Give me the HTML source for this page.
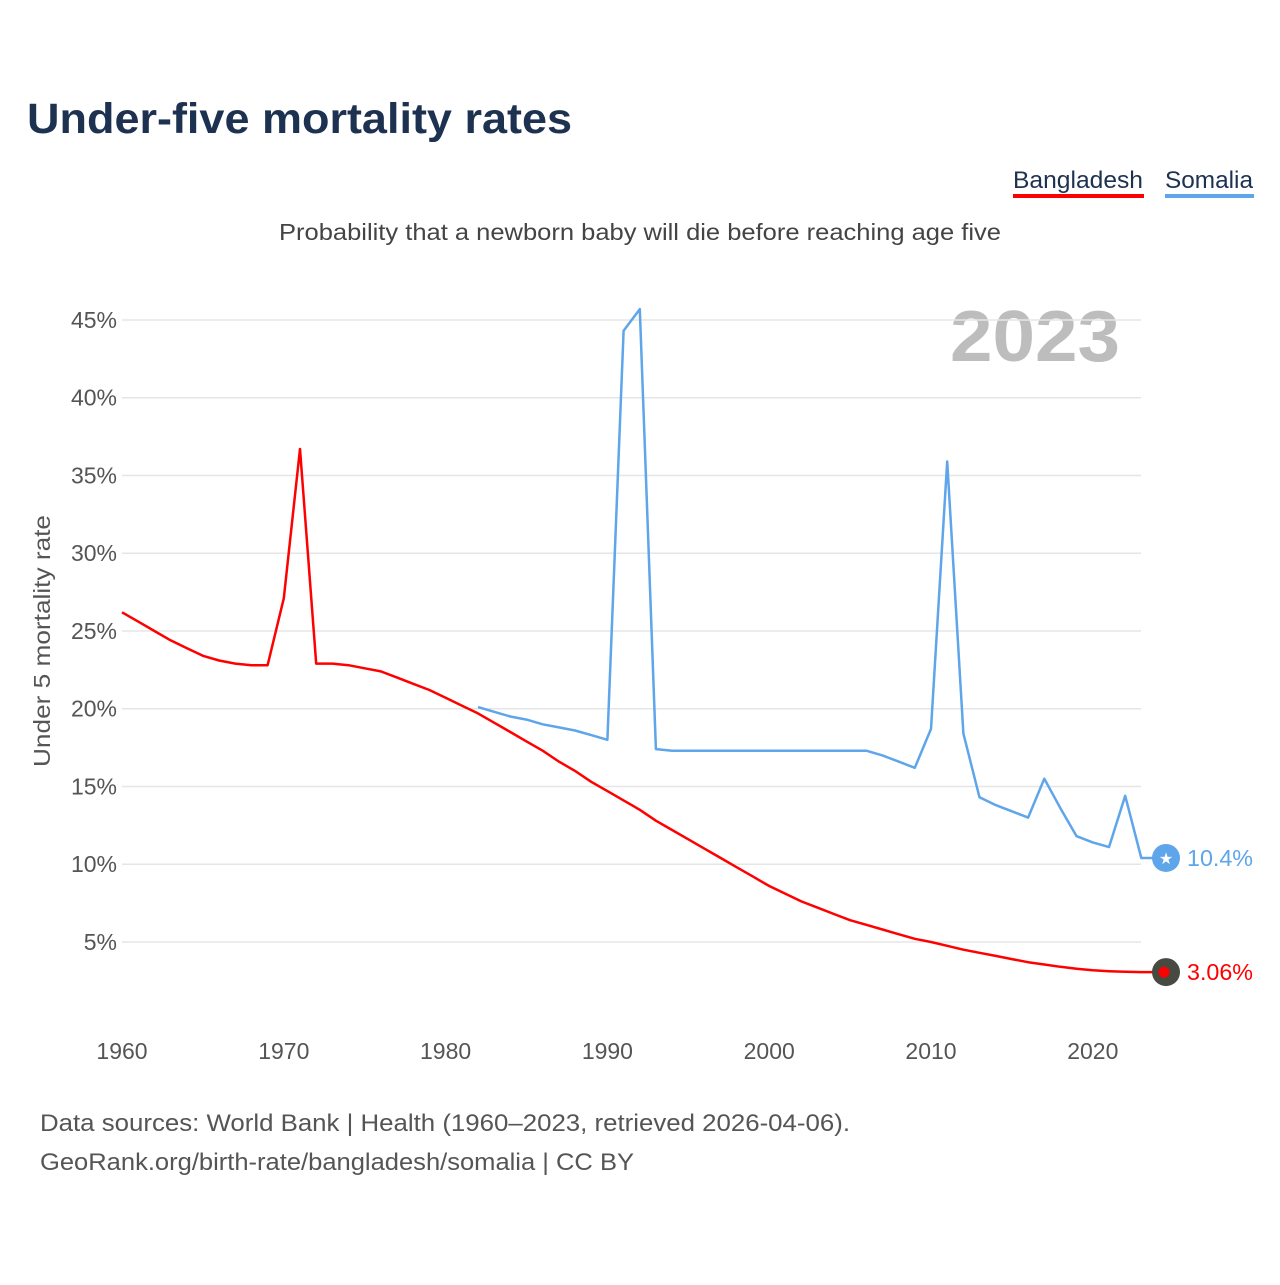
<!DOCTYPE html>
<html><head><meta charset="utf-8">
<style>
body{margin:0;background:#fff;width:1280px;height:1280px;overflow:hidden;font-family:"Liberation Sans",sans-serif}
svg text{font-family:"Liberation Sans",sans-serif}
</style></head>
<body>
<svg id="chart" width="1280" height="1280" viewBox="0 0 1280 1280">
<text x="27" y="133" font-size="43" font-weight="bold" fill="#1d3150" textLength="545" lengthAdjust="spacingAndGlyphs">Under-five mortality rates</text>
<g>
<text x="1013" y="188" font-size="24" fill="#1d3150" textLength="130" lengthAdjust="spacingAndGlyphs">Bangladesh</text>
<rect x="1013" y="194" width="131" height="4" fill="#ff0000"/>
<text x="1165" y="188" font-size="24" fill="#1d3150" textLength="88" lengthAdjust="spacingAndGlyphs">Somalia</text>
<rect x="1165" y="194" width="89" height="4" fill="#5ea5ea"/>
</g>
<text x="279" y="240" font-size="23" fill="#444" textLength="722" lengthAdjust="spacingAndGlyphs">Probability that a newborn baby will die before reaching age five</text>
<text x="950" y="361" font-size="72" font-weight="bold" fill="#bdbdbd" textLength="170" lengthAdjust="spacingAndGlyphs">2023</text>
<text transform="translate(50,767) rotate(-90)" font-size="23" fill="#555" textLength="252" lengthAdjust="spacingAndGlyphs">Under 5 mortality rate</text>
<g id="grid"></g><g id="yticks"></g><g id="xticks"></g><g id="lines"></g>
<text x="40" y="1131" font-size="24" fill="#555" textLength="810" lengthAdjust="spacingAndGlyphs">Data sources: World Bank | Health (1960–2023, retrieved 2026-04-06).</text>
<text x="40" y="1170" font-size="24" fill="#555" textLength="594" lengthAdjust="spacingAndGlyphs">GeoRank.org/birth-rate/bangladesh/somalia | CC BY</text>
</svg>
<script>
const yTicks=[5,10,15,20,25,30,35,40,45];
const xTicks=[1960,1970,1980,1990,2000,2010,2020];
const bdStart=1960;
const bangladesh=[26.2,25.6,25.0,24.4,23.9,23.4,23.1,22.9,22.8,22.8,27.1,36.7,22.9,22.9,22.8,22.6,22.4,22.0,21.6,21.2,20.7,20.2,19.7,19.1,18.5,17.9,17.3,16.6,16.0,15.3,14.7,14.1,13.5,12.8,12.2,11.6,11.0,10.4,9.8,9.2,8.6,8.1,7.6,7.2,6.8,6.4,6.1,5.8,5.5,5.2,5.0,4.75,4.5,4.3,4.1,3.9,3.7,3.55,3.4,3.28,3.18,3.12,3.08,3.06];
const soStart=1982;
const somalia=[20.1,19.8,19.5,19.3,19.0,18.8,18.6,18.3,18.0,44.3,45.7,17.4,17.3,17.3,17.3,17.3,17.3,17.3,17.3,17.3,17.3,17.3,17.3,17.3,17.3,17.0,16.6,16.2,18.7,35.9,18.4,14.3,13.8,13.4,13.0,15.5,13.6,11.8,11.4,11.1,14.4,10.4];
const NS='http://www.w3.org/2000/svg';
const xs=yr=>122+(yr-1960)*16.18;
const ys=v=>1019.7-v*15.55;
function mk(tag,attrs,parent){const e=document.createElementNS(NS,tag);for(const k in attrs)e.setAttribute(k,attrs[k]);parent.appendChild(e);return e;}
const grid=document.getElementById('grid'),yt=document.getElementById('yticks'),xt=document.getElementById('xticks'),ln=document.getElementById('lines');
yTicks.forEach(v=>{
 const l=mk('line',{x1:122,x2:1141,y1:ys(v),y2:ys(v),stroke:'#e6e6e6','stroke-width':1.5},grid);
 
 
 const t=mk('text',{x:117,y:ys(v)+8,'font-size':23,fill:'#555','text-anchor':'end'},yt);
 t.textContent=v+'%';
 
 
});
xTicks.forEach(yr=>{
 const t=mk('text',{x:xs(yr),y:1059,'font-size':23,fill:'#555','text-anchor':'middle'},xt);
 t.textContent=yr;
 
 
});
function series(data,start,color,name){
 const pts=data.map((v,i)=>xs(start+i).toFixed(1)+','+ys(v).toFixed(1));
 const last=data[data.length-1];
 pts.push('1166,'+ys(last).toFixed(1));
 const p=mk('polyline',{points:pts.join(' '),fill:'none',stroke:color,'stroke-width':2.5,'stroke-linejoin':'round'},ln);
 
 
 return last;
}
const bl=series(bangladesh,bdStart,'#ff0000','bangladesh');
const sl=series(somalia,soStart,'#5ea5ea','somalia');
let c=mk('circle',{cx:1166,cy:ys(sl),r:14,fill:'#5ea5ea'},ln);


let s=mk('text',{x:1166,y:ys(sl)+6,'font-size':16,fill:'#fff','text-anchor':'middle'},ln);
s.textContent='★';


let t=mk('text',{x:1187,y:ys(sl)+8,'font-size':23,fill:'#5ea5ea',textLength:66,lengthAdjust:'spacingAndGlyphs'},ln);
t.textContent=sl+'%';


c=mk('circle',{cx:1166,cy:ys(bl),r:14,fill:'#464a40'},ln);


c=mk('circle',{cx:1164,cy:ys(bl),r:5.5,fill:'#ff0000'},ln);


t=mk('text',{x:1187,y:ys(bl)+8,'font-size':23,fill:'#ff0000',textLength:66,lengthAdjust:'spacingAndGlyphs'},ln);
t.textContent=bl.toFixed(2)+'%';


</script>
</body></html>
